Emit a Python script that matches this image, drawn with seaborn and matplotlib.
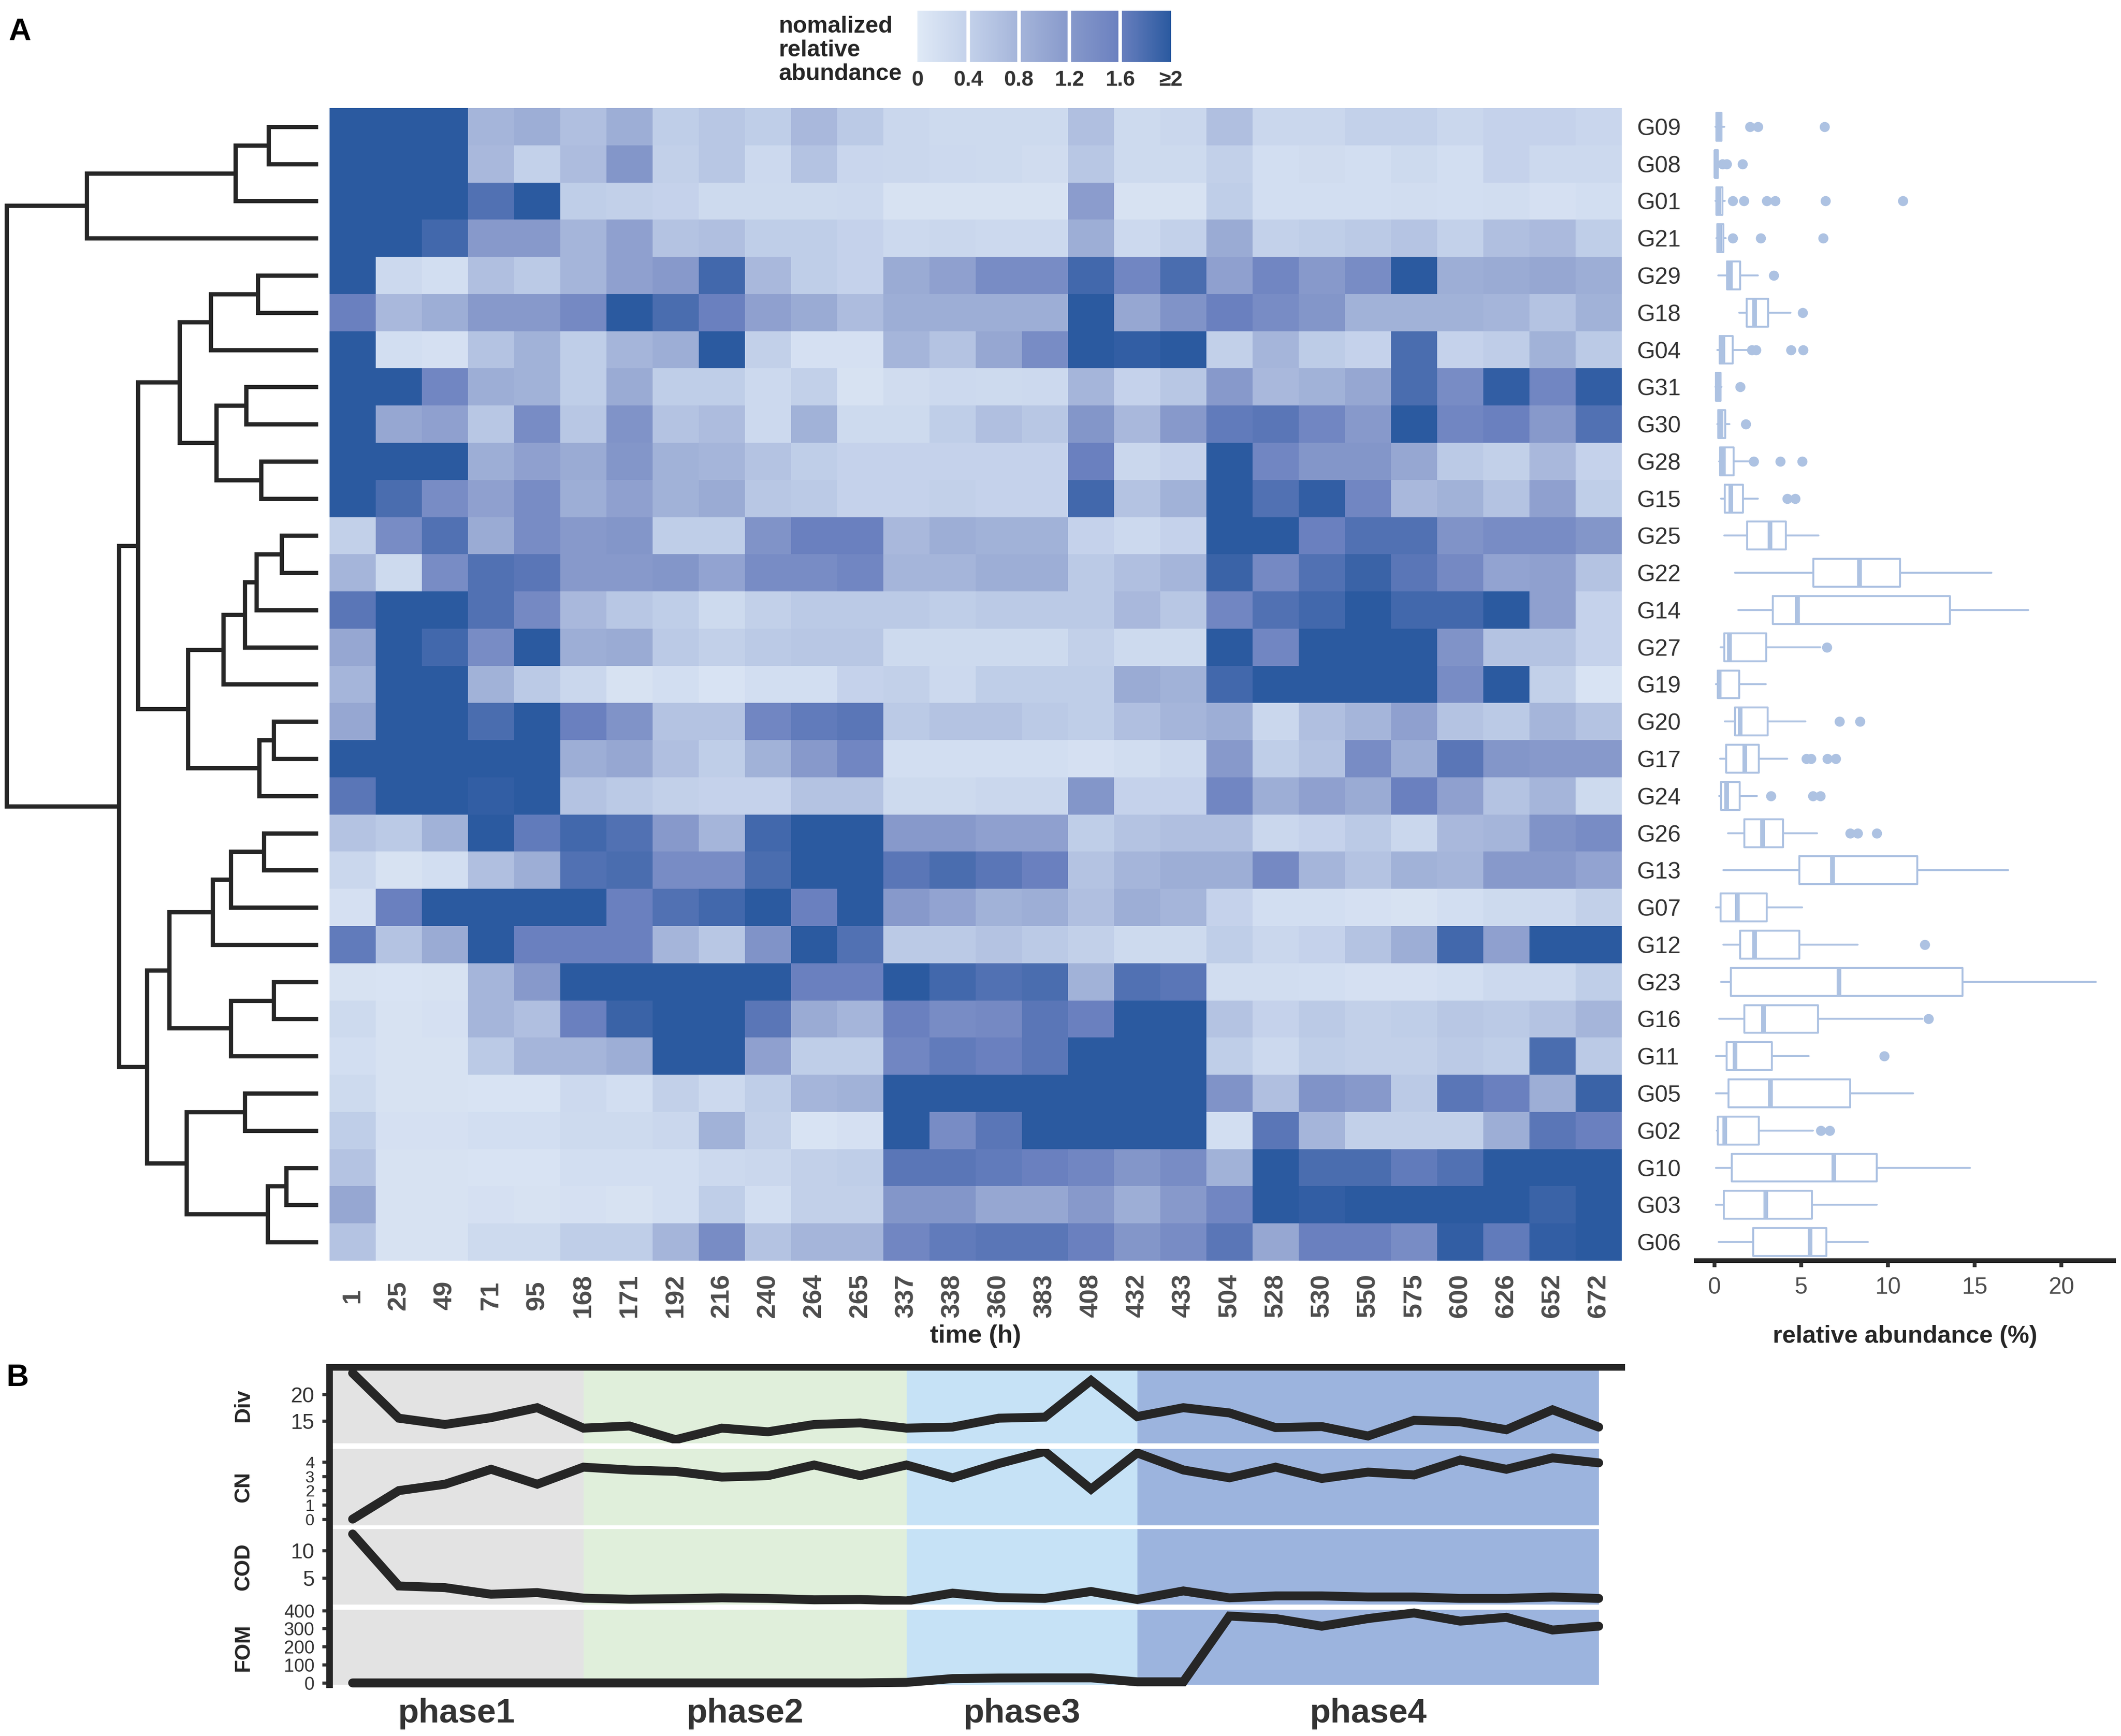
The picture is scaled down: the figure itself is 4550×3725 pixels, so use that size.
import numpy as np
import pandas as pd
import matplotlib
matplotlib.use("Agg")
import matplotlib.pyplot as plt
import matplotlib.transforms as mtransforms
import seaborn as sns
from matplotlib.colors import LinearSegmentedColormap

# ---------------- data ----------------
time_h = [1, 25, 49, 71, 95, 168, 171, 192, 216, 240, 264, 265, 337, 338,
          360, 383, 408, 432, 433, 504, 528, 530, 550, 575, 600, 626, 652, 672]
groups = ["G09", "G08", "G01", "G21", "G29", "G18", "G04", "G31", "G30", "G28",
          "G15", "G25", "G22", "G14", "G27", "G19", "G20", "G17", "G24", "G26",
          "G13", "G07", "G12", "G23", "G16", "G11", "G05", "G02", "G10", "G03", "G06"]

# normalized relative abundance per group (columns = time_h)
G09 = [2, 2, 2, 0.8, 0.9, 0.65, 0.9, 0.45, 0.55, 0.45, 0.75, 0.5, 0.3, 0.25, 0.25, 0.25, 0.65, 0.25, 0.3, 0.65, 0.3, 0.3, 0.4, 0.4, 0.3, 0.38, 0.38, 0.32]
G08 = [2, 2, 2, 0.75, 0.4, 0.7, 1.25, 0.42, 0.55, 0.28, 0.6, 0.32, 0.3, 0.28, 0.25, 0.22, 0.55, 0.25, 0.25, 0.42, 0.18, 0.22, 0.18, 0.25, 0.18, 0.38, 0.28, 0.28]
G01 = [2, 2, 2, 1.75, 2, 0.45, 0.42, 0.38, 0.25, 0.25, 0.25, 0.28, 0.12, 0.12, 0.12, 0.12, 1.15, 0.12, 0.12, 0.45, 0.18, 0.18, 0.18, 0.2, 0.18, 0.2, 0.15, 0.18]
G21 = [2, 2, 1.85, 1.2, 1.2, 0.8, 1.1, 0.6, 0.65, 0.45, 0.45, 0.38, 0.28, 0.3, 0.28, 0.28, 0.9, 0.28, 0.4, 0.95, 0.4, 0.45, 0.5, 0.58, 0.4, 0.65, 0.72, 0.45]
G29 = [2, 0.28, 0.18, 0.65, 0.5, 0.8, 1.1, 1.2, 1.85, 0.75, 0.45, 0.38, 0.95, 1.1, 1.4, 1.4, 1.85, 1.5, 1.8, 1.1, 1.5, 1.2, 1.4, 2, 0.9, 0.95, 1.0, 0.9]
G18 = [1.6, 0.75, 0.9, 1.2, 1.2, 1.45, 2, 1.8, 1.6, 1.1, 0.95, 0.7, 0.9, 0.9, 0.9, 0.9, 2, 1.0, 1.3, 1.6, 1.4, 1.25, 0.85, 0.85, 0.85, 0.8, 0.6, 0.85]
G04 = [2, 0.18, 0.15, 0.6, 0.85, 0.45, 0.8, 0.9, 2, 0.42, 0.15, 0.15, 0.8, 0.6, 1.0, 1.4, 2, 1.95, 2, 0.42, 0.8, 0.48, 0.38, 1.8, 0.38, 0.46, 0.85, 0.5]
G31 = [2, 2, 1.5, 0.9, 0.85, 0.45, 0.95, 0.45, 0.45, 0.28, 0.42, 0.12, 0.22, 0.28, 0.25, 0.28, 0.8, 0.38, 0.55, 1.2, 0.75, 0.85, 1.0, 1.8, 1.4, 1.95, 1.5, 1.95]
G30 = [2, 1.0, 1.1, 0.55, 1.4, 0.55, 1.3, 0.6, 0.7, 0.28, 0.85, 0.25, 0.25, 0.45, 0.65, 0.55, 1.25, 0.75, 1.2, 1.65, 1.7, 1.5, 1.2, 2, 1.5, 1.6, 1.2, 1.75]
G28 = [2, 2, 2, 0.9, 1.1, 0.95, 1.25, 0.85, 0.8, 0.6, 0.45, 0.38, 0.38, 0.38, 0.38, 0.38, 1.6, 0.3, 0.38, 2, 1.5, 1.25, 1.25, 1.0, 0.5, 0.42, 0.75, 0.38]
G15 = [2, 1.8, 1.4, 1.1, 1.4, 0.9, 1.1, 0.85, 0.95, 0.55, 0.5, 0.38, 0.38, 0.42, 0.38, 0.38, 1.85, 0.6, 0.85, 2, 1.75, 1.95, 1.5, 0.75, 0.85, 0.6, 1.1, 0.45]
G25 = [0.42, 1.4, 1.75, 0.95, 1.4, 1.2, 1.25, 0.45, 0.45, 1.3, 1.6, 1.6, 0.75, 0.9, 0.85, 0.85, 0.38, 0.28, 0.38, 2, 2, 1.6, 1.75, 1.75, 1.3, 1.4, 1.4, 1.25]
G22 = [0.8, 0.25, 1.4, 1.75, 1.7, 1.2, 1.2, 1.25, 1.05, 1.4, 1.4, 1.5, 0.8, 0.8, 0.9, 0.9, 0.5, 0.65, 0.8, 1.9, 1.45, 1.75, 1.9, 1.7, 1.45, 1.05, 1.1, 0.6]
G14 = [1.7, 2, 2, 1.75, 1.45, 0.75, 0.55, 0.45, 0.25, 0.42, 0.5, 0.5, 0.5, 0.45, 0.5, 0.5, 0.5, 0.75, 0.55, 1.5, 1.75, 1.85, 2, 1.85, 1.85, 2, 1.1, 0.38]
G27 = [1.0, 2, 1.85, 1.4, 2, 0.9, 0.95, 0.5, 0.42, 0.5, 0.55, 0.55, 0.25, 0.25, 0.25, 0.25, 0.42, 0.25, 0.25, 2, 1.5, 2, 2, 2, 1.3, 0.6, 0.6, 0.38]
G19 = [0.8, 2, 2, 0.85, 0.5, 0.3, 0.12, 0.18, 0.1, 0.18, 0.18, 0.38, 0.42, 0.28, 0.45, 0.45, 0.45, 0.95, 0.85, 1.85, 2, 2, 2, 2, 1.4, 2, 0.42, 0.1]
G20 = [1.0, 2, 2, 1.8, 2, 1.6, 1.3, 0.6, 0.6, 1.5, 1.65, 1.7, 0.5, 0.6, 0.6, 0.5, 0.45, 0.65, 0.8, 0.9, 0.3, 0.65, 0.8, 1.1, 0.6, 0.5, 0.8, 0.6]
G17 = [2, 2, 2, 2, 2, 0.9, 1.0, 0.65, 0.45, 0.85, 1.2, 1.5, 0.18, 0.18, 0.18, 0.18, 0.15, 0.2, 0.28, 1.2, 0.45, 0.6, 1.4, 0.9, 1.7, 1.25, 1.2, 1.2]
G24 = [1.7, 2, 2, 1.95, 2, 0.6, 0.5, 0.42, 0.38, 0.38, 0.6, 0.6, 0.25, 0.25, 0.3, 0.3, 1.25, 0.38, 0.38, 1.5, 0.9, 1.1, 0.95, 1.6, 1.1, 0.6, 0.8, 0.25]
G26 = [0.6, 0.5, 0.85, 2, 1.65, 1.85, 1.75, 1.2, 0.8, 1.85, 2, 2, 1.2, 1.2, 1.1, 1.1, 0.45, 0.6, 0.65, 0.65, 0.3, 0.38, 0.5, 0.3, 0.75, 0.8, 1.3, 1.4]
G13 = [0.3, 0.12, 0.18, 0.65, 0.9, 1.75, 1.8, 1.4, 1.4, 1.8, 2, 2, 1.7, 1.8, 1.7, 1.6, 0.6, 0.8, 0.9, 0.9, 1.45, 0.8, 0.6, 0.85, 0.8, 1.2, 1.2, 1.05]
G07 = [0.15, 1.6, 2, 2, 2, 2, 1.6, 1.75, 1.85, 2, 1.6, 2, 1.2, 1.05, 0.85, 0.9, 0.65, 0.9, 0.8, 0.38, 0.18, 0.18, 0.15, 0.12, 0.18, 0.25, 0.28, 0.42]
G12 = [1.65, 0.6, 0.95, 2, 1.6, 1.6, 1.6, 0.8, 0.55, 1.3, 2, 1.75, 0.5, 0.5, 0.6, 0.5, 0.42, 0.25, 0.25, 0.45, 0.3, 0.38, 0.6, 0.9, 1.85, 1.1, 2, 2]
G23 = [0.12, 0.1, 0.12, 0.8, 1.2, 2, 2, 2, 2, 2, 1.6, 1.6, 2, 1.85, 1.75, 1.8, 0.85, 1.75, 1.7, 0.2, 0.2, 0.18, 0.15, 0.15, 0.18, 0.28, 0.28, 0.45]
G16 = [0.25, 0.12, 0.15, 0.8, 0.65, 1.6, 1.9, 2, 2, 1.7, 0.95, 0.8, 1.6, 1.4, 1.45, 1.7, 1.6, 2, 2, 0.6, 0.38, 0.5, 0.42, 0.45, 0.55, 0.5, 0.6, 0.8]
G11 = [0.18, 0.12, 0.12, 0.5, 0.8, 0.8, 0.9, 2, 2, 1.1, 0.45, 0.45, 1.5, 1.65, 1.6, 1.7, 2, 2, 2, 0.45, 0.28, 0.45, 0.42, 0.42, 0.5, 0.45, 1.8, 0.5]
G05 = [0.25, 0.12, 0.12, 0.1, 0.1, 0.28, 0.18, 0.42, 0.28, 0.45, 0.8, 0.85, 2, 2, 2, 2, 2, 2, 2, 1.3, 0.65, 1.3, 1.2, 0.5, 1.7, 1.6, 0.9, 1.9]
G02 = [0.45, 0.15, 0.15, 0.18, 0.18, 0.25, 0.25, 0.3, 0.85, 0.42, 0.1, 0.15, 2, 1.4, 1.7, 2, 2, 2, 2, 0.18, 1.7, 0.8, 0.42, 0.42, 0.42, 0.9, 1.7, 1.6]
G10 = [0.6, 0.12, 0.12, 0.1, 0.1, 0.18, 0.18, 0.18, 0.28, 0.3, 0.42, 0.45, 1.7, 1.7, 1.65, 1.6, 1.5, 1.25, 1.4, 0.85, 2, 1.8, 1.8, 1.65, 1.75, 2, 2, 2]
G03 = [1.0, 0.12, 0.12, 0.15, 0.12, 0.15, 0.12, 0.18, 0.45, 0.18, 0.42, 0.42, 1.25, 1.25, 1.0, 1.0, 1.2, 0.9, 1.2, 1.5, 2, 1.95, 2, 2, 2, 2, 1.9, 2]
G06 = [0.6, 0.12, 0.12, 0.25, 0.25, 0.45, 0.45, 0.8, 1.4, 0.6, 0.8, 0.8, 1.5, 1.65, 1.7, 1.7, 1.6, 1.25, 1.4, 1.7, 1.0, 1.6, 1.6, 1.4, 1.95, 1.65, 1.95, 2]

# dendrogram (merge i creates node "m<i>")
merge_left = ["G09", "m0", "m1", "G29", "m3", "G31", "G28", "m5", "m4", "G25",
              "m9", "m10", "m11", "G20", "m13", "m12", "m8", "G26", "m17", "m18",
              "G23", "m20", "m19", "G05", "G10", "m24", "m23", "m22", "m16", "m2"]
merge_right = ["G08", "G01", "G21", "G18", "G04", "G30", "G15", "m6", "m7", "G22",
               "G14", "G27", "G19", "G17", "G24", "m14", "m15", "G13", "G07", "G12",
               "G16", "G11", "m21", "G02", "G03", "G06", "m25", "m26", "m27", "m28"]
merge_height = [2.30, 3.85, 10.80, 2.80, 5.00, 3.35, 2.65, 4.75, 6.47, 1.70,
                2.88, 3.42, 4.43, 2.08, 2.75, 6.07, 8.40, 2.53, 4.08, 4.93,
                2.07, 4.07, 6.95, 3.43, 1.49, 2.35, 6.15, 8.00, 9.30, 14.55]

# relative abundance (%) box summaries
box_whislo = [0.05, 0.0, 0.05, 0.1, 0.2, 1.42, 0.15, 0.05, 0.15, 0.28, 0.38, 0.57, 1.19, 1.38, 0.34, 0.09,
              0.6, 0.32, 0.28, 0.79, 0.51, 0.09, 0.51, 0.38, 0.28, 0.09, 0.09, 0.13, 0.09, 0.09, 0.23]
box_q1 = [0.1, 0.02, 0.1, 0.15, 0.72, 1.85, 0.3, 0.08, 0.2, 0.32, 0.6, 1.89, 5.7, 3.36, 0.57, 0.19,
          1.19, 0.66, 0.38, 1.72, 4.9, 0.34, 1.47, 0.94, 1.72, 0.7, 0.81, 0.19, 0.98, 0.53, 2.23]
box_med = [0.2, 0.08, 0.25, 0.3, 0.9, 2.3, 0.47, 0.2, 0.38, 0.51, 0.94, 3.2, 8.36, 4.77, 0.85, 0.28,
           1.47, 1.75, 0.7, 2.77, 6.79, 1.32, 2.32, 7.17, 2.83, 1.19, 3.21, 0.6, 6.89, 2.96, 5.51]
box_q3 = [0.4, 0.18, 0.45, 0.5, 1.47, 3.08, 1.04, 0.35, 0.62, 1.09, 1.64, 4.11, 10.7, 13.58, 2.98, 1.42,
          3.06, 2.55, 1.45, 3.94, 11.7, 3.02, 4.9, 14.3, 5.96, 3.3, 7.83, 2.55, 9.34, 5.62, 6.45]
box_whishi = [0.55, 0.3, 0.6, 0.65, 2.5, 4.38, 1.9, 0.4, 0.85, 1.98, 2.49, 6.0, 15.96, 18.08, 6.1, 2.96,
              5.25, 4.19, 2.45, 5.9, 16.92, 5.04, 8.26, 21.98, 11.98, 5.42, 11.45, 5.66, 14.72, 9.34, 8.83]
box_fliers = [[2.05, 2.5, 6.35], [0.45, 0.7, 1.6], [1.05, 1.7, 3.0, 3.5, 6.4, 10.85], [1.05, 2.65, 6.25],
              [3.42], [5.08], [2.15, 2.4, 4.4, 5.1], [1.47], [1.8], [2.25, 3.8, 5.05], [4.2, 4.65],
              [], [], [], [6.47], [], [7.19, 8.38], [5.3, 5.57, 6.5, 6.98], [3.26, 5.68, 6.1],
              [7.83, 8.25, 9.34], [], [], [12.13], [], [12.32], [9.77], [], [6.13, 6.64], [], [], []]

# panel B series (one value per time point)
div_vals = [24.1, 15.5, 14.3, 15.6, 17.5, 13.6, 14.0, 11.4, 13.6, 12.9, 14.3, 14.6, 13.6, 13.8,
            15.5, 15.7, 22.7, 15.8, 17.5, 16.5, 13.7, 13.9, 12.1, 15.1, 14.8, 13.3, 17.1, 13.8]
cn_vals = [0.0, 2.0, 2.45, 3.5, 2.45, 3.65, 3.45, 3.35, 2.95, 3.05, 3.8, 3.05, 3.8, 2.9,
           3.9, 4.75, 2.1, 4.65, 3.45, 2.9, 3.65, 2.85, 3.3, 3.1, 4.15, 3.5, 4.3, 3.95]
cod_vals = [13.0, 3.6, 3.3, 2.1, 2.4, 1.4, 1.2, 1.3, 1.45, 1.35, 1.1, 1.15, 0.9, 2.3,
            1.5, 1.35, 2.6, 1.15, 2.7, 1.45, 1.8, 1.8, 1.6, 1.6, 1.35, 1.35, 1.6, 1.35]
fom_vals = [0, 0, 0, 0, 0, 0, 0, 0, 0, 0, 0, 0, 3, 24,
            27, 28, 28, 6, 6, 369, 355, 313, 355, 386, 341, 362, 292, 313]
phase_names = ["phase1", "phase2", "phase3", "phase4"]
phase_start_idx = [0, 5, 12, 17]     # time-point index where each phase shading starts
phase_end_idx = [5, 12, 17, 27]
phase_colors = ["#e3e3e3", "#e0efdb", "#c6e2f6", "#9cb4de"]

cbar_ticks = [0, 0.4, 0.8, 1.2, 1.6, 2.0]
cbar_labels = ["0", "0.4", "0.8", "1.2", "1.6", "\u22652"]

# ---------------- style ----------------
sns.set_style("white")
plt.rcParams["font.family"] = ["Liberation Sans", "DejaVu Sans"]

W, H = 4550, 3725
fig = plt.figure(figsize=(W / 300, H / 300), dpi=300)


def fx(px):
    return px / W


def fy(py):
    return 1 - py / H


DARK = "#262626"
GRAY = "#4d4d4d"

cmap = LinearSegmentedColormap.from_list(
    "abund", [(0.0, "#dfe9f6"), (0.2, "#c3d1ea"), (0.4, "#a5b5da"),
              (0.6, "#8799cb"), (0.8, "#6a80bf"), (1.0, "#2b5aa0")])

hm_l, hm_r, hm_t, hm_b = 707, 3479, 232, 2705
hm_w, hm_h = hm_r - hm_l, hm_b - hm_t
ax_hm = fig.add_axes([fx(hm_l), fy(hm_b), hm_w / W, hm_h / H])
cax = fig.add_axes([fx(1968), fy(133), (2512 - 1968) / W, (133 - 23) / H])

rows = [G09, G08, G01, G21, G29, G18, G04, G31, G30, G28, G15, G25, G22, G14, G27, G19,
        G20, G17, G24, G26, G13, G07, G12, G23, G16, G11, G05, G02, G10, G03, G06]
df = pd.DataFrame(rows, index=groups, columns=[str(t) for t in time_h])

sns.heatmap(df, ax=ax_hm, cmap=cmap, vmin=0, vmax=2, cbar_ax=cax,
            cbar_kws={"orientation": "horizontal", "ticks": cbar_ticks},
            xticklabels=True, yticklabels=True, linewidths=0)

# heatmap ticks
ax_hm.yaxis.tick_right()
ax_hm.set_yticks(np.arange(len(groups)) + 0.5)
ax_hm.set_yticklabels(groups, rotation=0, fontsize=12, color="#333333", ha="left")
ax_hm.tick_params(axis="y", length=0, pad=7.7)
ax_hm.set_xticks(np.arange(len(time_h)) + 0.5)
ax_hm.set_xticklabels([str(t) for t in time_h], rotation=90, fontsize=13.5,
                      fontweight="bold", color=GRAY, va="center", ha="center")
ax_hm.tick_params(axis="x", length=0, pad=18)
ax_hm.set_ylabel("")
ax_hm.set_xlabel("time (h)", fontsize=13, fontweight="bold", color=DARK)
ax_hm.xaxis.set_label_coords(0.5, (hm_b - 2867) / hm_h)
ax_hm.xaxis.label.set_va("center")

# colorbar
cb = ax_hm.collections[0].colorbar
cb.outline.set_visible(False)
cb.set_ticks(cbar_ticks)
cb.set_ticklabels(cbar_labels)
cax.tick_params(length=0, pad=4, labelsize=11, labelcolor="#333333")
for lbl in cax.get_xticklabels():
    lbl.set_fontweight("bold")
for v in cbar_ticks[1:-1]:
    cax.axvline(v, color="white", lw=1.8)
fig.text(fx(1671), fy(108), "nomalized\nrelative\nabundance", fontsize=12,
         fontweight="bold", color=DARK, ha="left", va="center", linespacing=1.15)

# dendrogram
ax_dn = fig.add_axes([fx(14), fy(hm_b), (682 - 14) / W, hm_h / H])
pos = {g: (i + 0.5, 0.0) for i, g in enumerate(groups)}
for k, (lft, rgt, h) in enumerate(zip(merge_left, merge_right, merge_height)):
    yl, hl = pos[lft]
    yr, hr = pos[rgt]
    ax_dn.plot([hl, h, h, hr], [yl, yl, yr, yr], color=DARK, lw=2.2,
               solid_joinstyle="miter", solid_capstyle="butt", clip_on=False)
    pos["m%d" % k] = ((yl + yr) / 2.0, h)
ax_dn.set_xlim(max(merge_height), 0)
ax_dn.set_ylim(len(groups), 0)
ax_dn.axis("off")

# boxplots
ax_bx = fig.add_axes([fx(3639), fy(hm_b), (4534 - 3639) / W, hm_h / H])
box_col = "#adc2e2"
stats = []
for i in range(len(groups)):
    stats.append(dict(whislo=box_whislo[i], q1=box_q1[i], med=box_med[i],
                      q3=box_q3[i], whishi=box_whishi[i], fliers=box_fliers[i]))
bxp_kw = dict(positions=np.arange(len(groups)) + 0.5, widths=0.75, showcaps=False,
              boxprops=dict(color=box_col, lw=1.0),
              whiskerprops=dict(color=box_col, lw=1.0),
              medianprops=dict(color=box_col, lw=2.4),
              flierprops=dict(marker="o", markerfacecolor=box_col,
                              markeredgecolor=box_col, markersize=4.2))
try:
    ax_bx.bxp(stats, orientation="horizontal", **bxp_kw)
except TypeError:
    ax_bx.bxp(stats, vert=False, **bxp_kw)
ax_bx.set_ylim(len(groups), 0)
ax_bx.set_xlim(-1.05, 23)
ax_bx.set_yticks([])
ax_bx.set_xticks([0, 5, 10, 15, 20])
ax_bx.set_xticklabels(["0", "5", "10", "15", "20"])
for s in ["left", "top", "right"]:
    ax_bx.spines[s].set_visible(False)
ax_bx.spines["bottom"].set_linewidth(2.4)
ax_bx.spines["bottom"].set_color(DARK)
ax_bx.tick_params(axis="x", direction="out", length=3.4, width=2, color="#333333",
                  labelsize=12, labelcolor=GRAY, pad=5, bottom=True)
ax_bx.set_xlabel("relative abundance (%)", fontsize=12.5, fontweight="bold", color=DARK)
ax_bx.xaxis.set_label_coords(0.5, (hm_b - 2867) / hm_h)
ax_bx.xaxis.label.set_va("center")
ax_bx.grid(False)

# panel B
xpos = np.arange(len(time_h)) + 0.5
panels = [
    ("Div", div_vals, (10.7, 25.2), [15, 20], 2934, 3097, 11),
    ("CN", cn_vals, (-0.44, 4.93), [0, 1, 2, 3, 4], 3109, 3273, 8.5),
    ("COD", cod_vals, (0.23, 13.9), [5, 10], 3281, 3443, 11),
    ("FOM", fom_vals, (-10, 404), [0, 100, 200, 300, 400], 3454, 3615, 9.5),
]
axes_b = []
for j, (name, vals, ylim, yt, top, bot, tsize) in enumerate(panels):
    ax = fig.add_axes([fx(hm_l), fy(bot), hm_w / W, (bot - top) / H])
    ax.set_facecolor("none")
    for s_i, e_i, col in zip(phase_start_idx, phase_end_idx, phase_colors):
        ax.axvspan(xpos[s_i] if s_i > 0 else 0, xpos[e_i], color=col, lw=0, zorder=0)
    sns.lineplot(x=xpos, y=vals, ax=ax, color=DARK, linewidth=4.6, zorder=3,
                 solid_joinstyle="miter", clip_on=(j != 3))
    ax.set_xlim(0, len(time_h))
    ax.set_ylim(*ylim)
    ax.set_yticks(yt)
    ax.set_yticklabels([str(v) for v in yt])
    ax.set_xticks([])
    ax.set_xlabel("")
    for s in ["right", "bottom", "top"]:
        ax.spines[s].set_visible(False)
    ax.spines["left"].set_linewidth(3.4)
    ax.spines["left"].set_color(DARK)
    if j == 0:
        ax.spines["top"].set_visible(True)
        ax.spines["top"].set_linewidth(3.4)
        ax.spines["top"].set_color(DARK)
    ax.tick_params(axis="y", left=True, direction="out", length=3.8, width=1.6,
                   color="#333333", labelsize=tsize, labelcolor="#333333", pad=4)
    ax.set_ylabel(name, fontsize=11, fontweight="bold", color=DARK)
    ax.yaxis.set_label_coords((522 - hm_l) / hm_w, 0.5)
    ax.yaxis.label.set_va("center")
    ax.grid(False)
    axes_b.append(ax)

ax_f = axes_b[-1]
trans = mtransforms.blended_transform_factory(ax_f.transData, ax_f.transAxes)
for name, s_i, e_i in zip(phase_names, phase_start_idx, phase_end_idx):
    x0 = xpos[s_i] if s_i > 0 else 0
    ax_f.text((x0 + xpos[e_i]) / 2, -(3677 - 3615) / (3615 - 3454), name,
              transform=trans, ha="center", va="center", fontsize=17.5,
              fontweight="bold", color="#333333")

# panel letters
fig.text(0.004, fy(38), "A", fontsize=16, fontweight="bold", color="black", ha="left", va="top")
fig.text(0.003, fy(2926), "B", fontsize=16, fontweight="bold", color="black", ha="left", va="top")

fig.savefig("out.png", dpi=300)
